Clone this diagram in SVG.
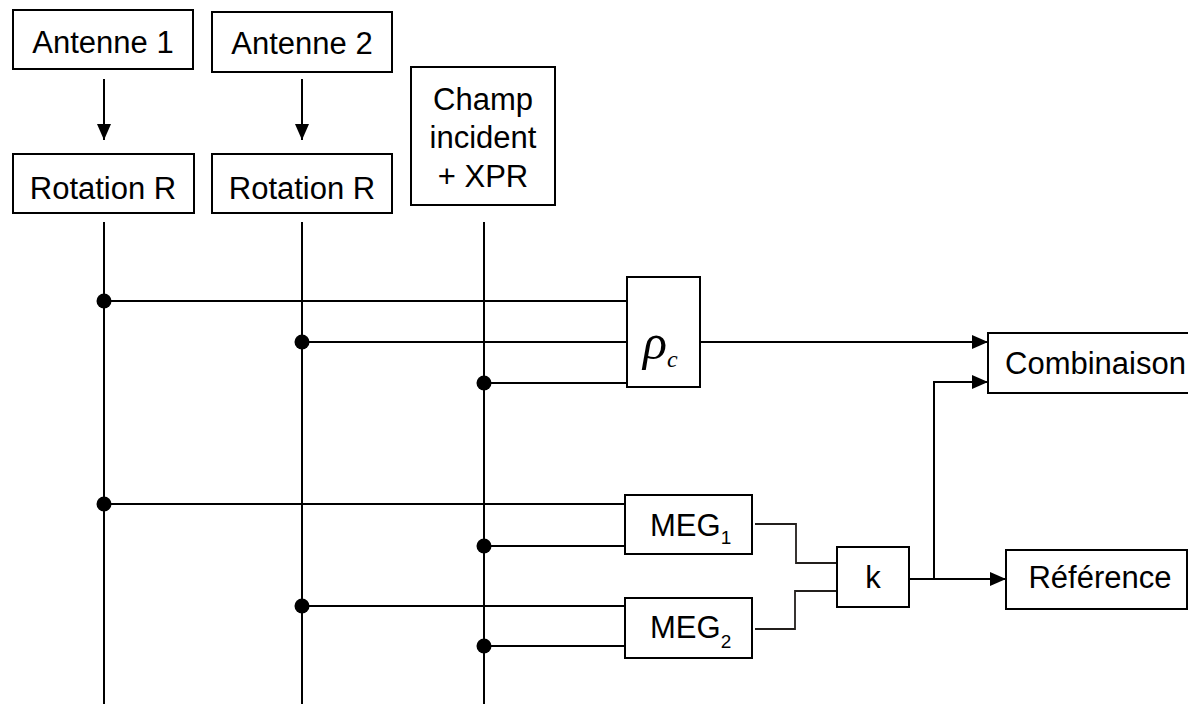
<svg xmlns="http://www.w3.org/2000/svg" width="1188" height="704" viewBox="0 0 1188 704">
<defs>
<style>
.box{fill:#fff;stroke:#000;stroke-width:2}
.t{font-family:"Liberation Sans",Arial,sans-serif;font-size:31px;fill:#000}
.c{text-anchor:middle}
.ln{fill:none;stroke:#000;stroke-width:2}
.thin{fill:none;stroke:#231f1c;stroke-width:1.8}
.dot{fill:#000}
</style>
<marker id="ah" viewBox="0 0 16 14" refX="16" refY="7" markerWidth="16" markerHeight="14" markerUnits="userSpaceOnUse" orient="auto">
<path d="M0,0 L16,7 L0,14 z" fill="#000"/>
</marker>
</defs>
<rect width="1188" height="704" fill="#fff"/>
<g id="connectors">
<line class="ln" x1="104" y1="79" x2="104" y2="140" marker-end="url(#ah)"/>
<line class="ln" x1="302" y1="79" x2="302" y2="140" marker-end="url(#ah)"/>
<line class="ln" x1="104" y1="222" x2="104" y2="704"/>
<line class="ln" x1="302" y1="222" x2="302" y2="704"/>
<line class="ln" x1="484" y1="222" x2="484" y2="704"/>
<line class="ln" x1="104" y1="301" x2="627" y2="301"/>
<line class="ln" x1="302" y1="342" x2="627" y2="342"/>
<line class="ln" x1="484" y1="383" x2="627" y2="383"/>
<line class="ln" x1="104" y1="504" x2="625" y2="504"/>
<line class="ln" x1="484" y1="546" x2="625" y2="546"/>
<line class="ln" x1="302" y1="606" x2="625" y2="606"/>
<line class="ln" x1="484" y1="646" x2="625" y2="646"/>
<circle class="dot" cx="104" cy="301" r="7.5"/>
<circle class="dot" cx="302" cy="342" r="7.5"/>
<circle class="dot" cx="484" cy="383" r="7.5"/>
<circle class="dot" cx="104" cy="504" r="7.5"/>
<circle class="dot" cx="484" cy="546" r="7.5"/>
<circle class="dot" cx="302" cy="606" r="7.5"/>
<circle class="dot" cx="484" cy="646" r="7.5"/>
<line class="ln" x1="700" y1="342" x2="988" y2="342" marker-end="url(#ah)"/>
<polyline class="ln" points="934,579 934,382 988,382" marker-end="url(#ah)"/>
<line class="ln" x1="909" y1="579" x2="1006" y2="579" marker-end="url(#ah)"/>
<polyline class="thin" points="755,524 796,524 796,563 837,563"/>
<polyline class="thin" points="755,629 795,629 795,591 837,591"/>
</g>
<g id="antenne1"><rect class="box" x="13" y="10" width="180" height="59"/><text class="t c" x="103" y="53">Antenne 1</text></g>
<g id="antenne2"><rect class="box" x="212" y="12" width="180" height="60"/><text class="t c" x="302" y="54">Antenne 2</text></g>
<g id="rotation1"><rect class="box" x="13" y="154" width="181" height="59"/><text class="t c" x="103" y="199">Rotation R</text></g>
<g id="rotation2"><rect class="box" x="212" y="154" width="180" height="59"/><text class="t c" x="302" y="199">Rotation R</text></g>
<g id="champ"><rect class="box" x="411" y="67" width="144" height="138"/>
<text class="t c" x="483" y="110">Champ</text>
<text class="t c" x="483" y="148">incident</text>
<text class="t c" x="483" y="187">+ XPR</text></g>
<g id="rhoc"><rect class="box" x="627" y="277" width="73" height="110"/>
<text x="643" y="359" style="font-family:'Liberation Serif','Times New Roman',serif;font-style:italic;font-size:50px">ρ</text>
<text x="667" y="367" style="font-family:'Liberation Serif','Times New Roman',serif;font-style:italic;font-size:24px">c</text></g>
<g id="combinaison"><rect class="box" x="988" y="333" width="212" height="60"/><text class="t" x="1005" y="374">Combinaison</text></g>
<g id="meg1"><rect class="box" x="625" y="495" width="127" height="59"/><text class="t" x="650" y="536">MEG<tspan dy="8" style="font-size:19px">1</tspan></text></g>
<g id="meg2"><rect class="box" x="625" y="598" width="127" height="60"/><text class="t" x="650" y="638">MEG<tspan dy="10" style="font-size:19px">2</tspan></text></g>
<g id="k"><rect class="box" x="837" y="547" width="72" height="60"/><text class="t c" x="873" y="588">k</text></g>
<g id="reference"><rect class="box" x="1006" y="550" width="181" height="59"/><text class="t c" x="1100" y="588">Référence</text></g>
</svg>
